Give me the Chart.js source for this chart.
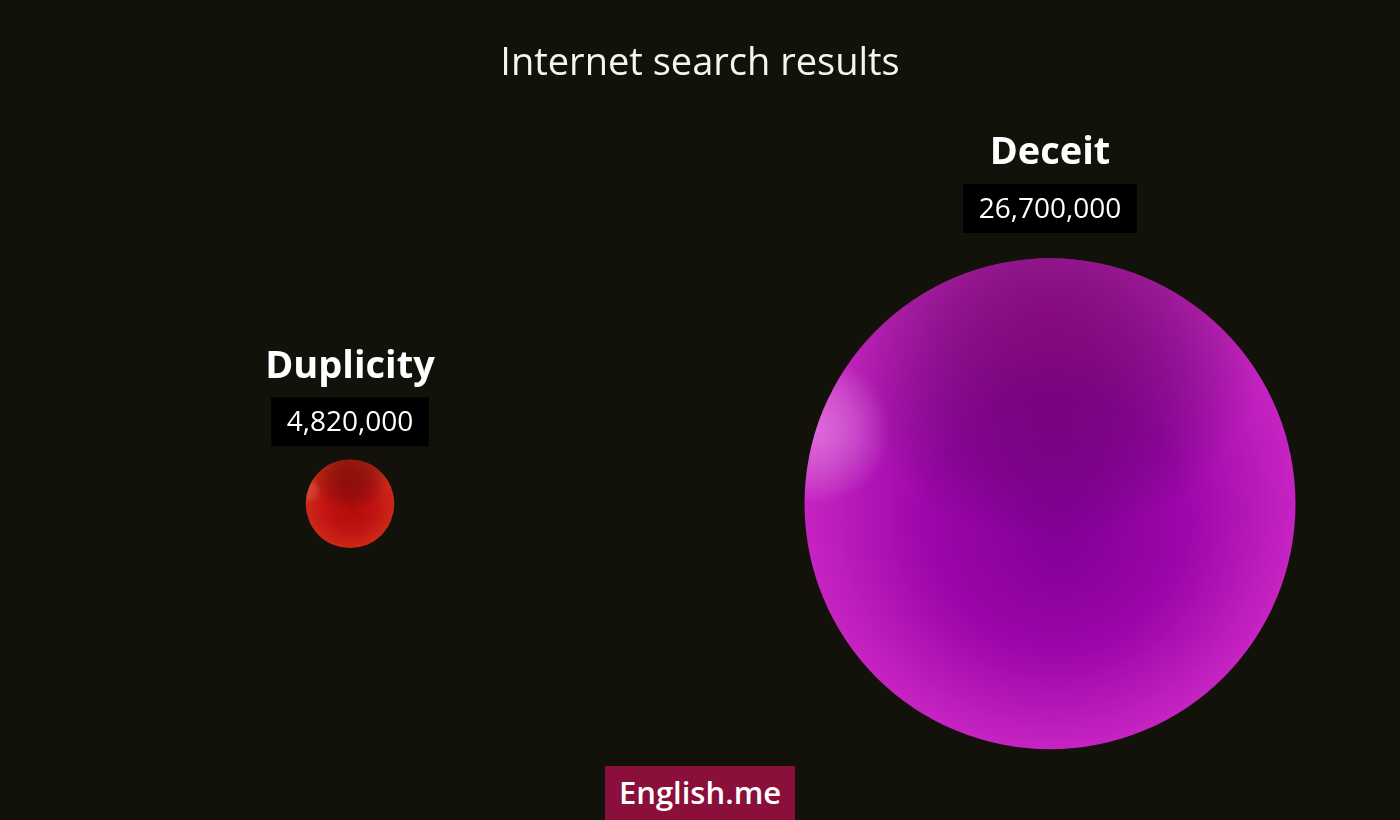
<!DOCTYPE html>
<html>
<head>
<meta charset="utf-8">
<script src="https://cdn.jsdelivr.net/npm/chart.js@4"></script>
<style>
  html, body { margin: 0; padding: 0; background: #13120a; }
  #wrap { position: relative; width: 1400px; height: 820px; }
  #logo {
    position: absolute; left: 605px; top: 766px; width: 190px; height: 54px;
    background: #8a0f3b; color: #fff; font-family: "Open Sans", sans-serif;
    font-weight: 600; font-size: 31px; line-height: 52px; text-align: center;
  }
</style>
</head>
<body>
<div id="wrap">
  <canvas id="bubbleChart" width="1400" height="820"></canvas>
  <div id="logo">English.me</div>
</div>
<script>
var words = ['Duplicity', 'Deceit'];
var results = [4820000, 26700000];
var positions = [0.5, 1.5];
var maxRadius = 245.5;

// colour ramps for each ball: centre, middle, rim, shadow on top, highlight
var ballColors = [
    ['#b40c0c', '#c01212', '#cc2818', 'rgba(110,10,4,0.6)', 'rgba(240,120,90,0.3)'],
    ['#86009a', '#9c06aa', '#c624c2', 'rgba(104,0,92,0.6)', 'rgba(245,170,240,0.5)']
];

var shadePlugin = {
    id: 'ballShade',
    beforeDatasetsDraw: function(chart) {
        var c = chart.ctx;
        chart.getDatasetMeta(0).data.forEach(function(pt, i) {
            var r = pt.options.radius;
            var col = ballColors[i];
            var g = c.createRadialGradient(pt.x + r * 0.05, pt.y + r * 0.15, r * 0.05, pt.x, pt.y, r);
            g.addColorStop(0, col[0]);
            g.addColorStop(0.5, col[1]);
            g.addColorStop(1, col[2]);
            pt.options.backgroundColor = g;
        });
    },
    afterDatasetsDraw: function(chart) {
        var c = chart.ctx;
        chart.getDatasetMeta(0).data.forEach(function(pt, i) {
            var r = pt.options.radius;
            var col = ballColors[i];
            c.save();
            c.beginPath();
            c.arc(pt.x, pt.y, r, 0, Math.PI * 2);
            c.clip();
            var top = c.createRadialGradient(pt.x, pt.y - r * 0.75, 0, pt.x, pt.y - r * 0.75, r * 0.9);
            top.addColorStop(0, col[3]);
            top.addColorStop(1, 'rgba(0,0,0,0)');
            c.fillStyle = top;
            c.fillRect(pt.x - r, pt.y - r, 2 * r, 2 * r);
            var hl = c.createRadialGradient(pt.x - r * 0.95, pt.y - r * 0.3, 0, pt.x - r * 0.95, pt.y - r * 0.3, r * 0.3);
            hl.addColorStop(0, col[4]);
            hl.addColorStop(1, 'rgba(255,255,255,0)');
            c.fillStyle = hl;
            c.fillRect(pt.x - r, pt.y - r, 2 * r, 2 * r);
            c.restore();
        });
    }
};

var labelPlugin = {
    id: 'bubbleLabels',
    afterDraw: function(chart) {
        var c = chart.ctx;
        chart.getDatasetMeta(0).data.forEach(function(pt, i) {
            var r = pt.options.radius;
            var boxCenter = pt.y - r - (35 + 0.06 * r);
            var txt = results[i].toLocaleString('en-US');
            c.save();
            c.font = '28px "Open Sans"';
            var w = c.measureText(txt).width + 31;
            c.fillStyle = '#000';
            c.fillRect(pt.x - w / 2, boxCenter - 24.5, w, 49);
            c.fillStyle = '#fff';
            c.textAlign = 'center';
            c.textBaseline = 'middle';
            c.fillText(txt, pt.x, boxCenter + 1);
            c.font = 'bold 38px "Open Sans"';
            c.fillText(words[i], pt.x, boxCenter - 55);
            c.restore();
        });
    }
};

var ctx = document.getElementById('bubbleChart').getContext('2d');
var bubbleChart = new Chart(ctx, {
    type: 'bubble',
    data: {
        labels: words,
        datasets: [{
            data: positions.map(function(x, i) { return { x: x, y: 0 }; }),
            radius: function(context) {
                return results[context.dataIndex] / Math.max.apply(null, results) * maxRadius;
            },
            backgroundColor: ballColors.map(function(b) { return b[1]; }),
            borderWidth: 0,
            hoverRadius: 0,
            clip: false
        }]
    },
    options: {
        responsive: false,
        animation: false,
        events: [],
        layout: { padding: 0, autoPadding: false },
        scales: {
            x: { display: false, min: 0, max: 2 },
            y: { display: false, min: -1, max: 1 }
        },
        plugins: {
            legend: { display: false },
            tooltip: { enabled: false },
            title: {
                display: true,
                text: 'Internet search results',
                color: '#f4f4f0',
                font: { family: 'Open Sans', size: 38, weight: 'normal', lineHeight: 1.2 },
                padding: { top: 41, bottom: 101 }
            }
        }
    },
    plugins: [shadePlugin, labelPlugin]
});
</script>
</body>
</html>
